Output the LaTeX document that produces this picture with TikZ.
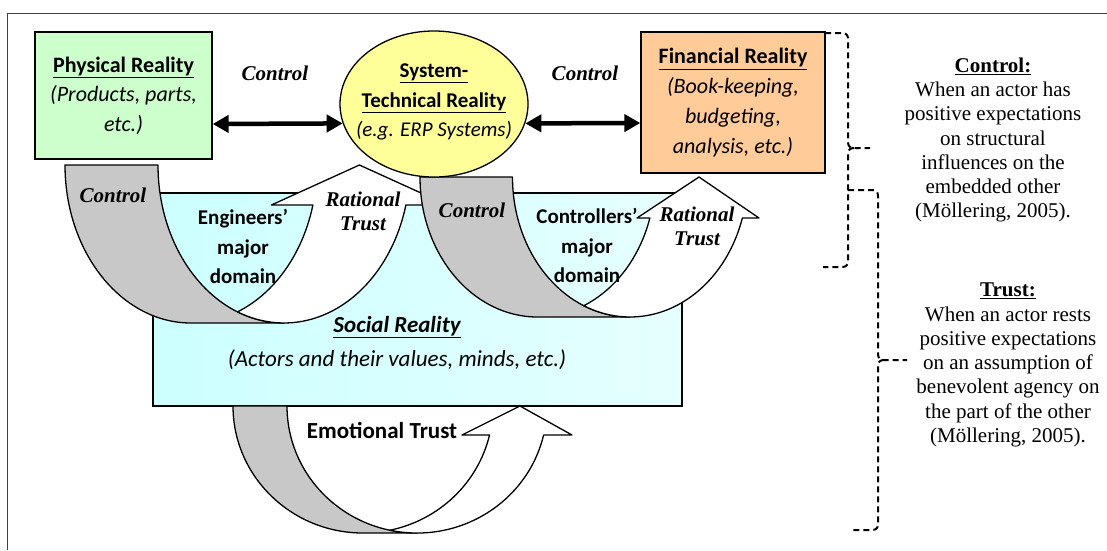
\documentclass[tikz,border=0pt]{standalone}
\usepackage{fontspec}
\setmainfont{Liberation Serif}
\newfontfamily\calfont{Carlito}
\usetikzlibrary{shapes.geometric,arrows.meta}
\definecolor{physgreen}{HTML}{CCFFCC}
\definecolor{finorange}{HTML}{FFCC99}
\definecolor{sysyellow}{HTML}{FFFF99}
\definecolor{arrgray}{HTML}{C8C8C8}
\definecolor{socleft}{HTML}{CCFFFF}
\definecolor{socright}{HTML}{E6FFFF}
\begin{document}
\begin{tikzpicture}[x=1pt,y=-1pt,
  outl/.style={draw=black,line width=1.3pt},
  band/.style={outl, line join=round},
  backband/.style={band, fill=arrgray},
  frontband/.style={band, fill=white},
  boxshape/.style={outl, rectangle, inner sep=0pt, align=center},
  cal/.style={font=\calfont\fontsize{21}{29.5}\selectfont, align=center, inner sep=0pt},
  calb/.style={font=\calfont\bfseries\fontsize{21}{29.5}\selectfont, align=center, inner sep=0pt},
  tmsbi/.style={font=\bfseries\itshape\fontsize{21}{24}\selectfont, align=center, inner sep=0pt},
  tmsnote/.style={font=\fontsize{21}{24.3}\selectfont, align=center, inner sep=0pt},
  dbl/.style={line width=4.5pt, {Triangle[length=16pt,width=17pt]}-{Triangle[length=16pt,width=17pt]}},
  bracepath/.style={line width=2pt, dash pattern=on 6pt off 4pt},
]
\useasboundingbox (0,0) rectangle (1107,550);
\fill[white] (0,0) rectangle (1107,550);
\draw[line width=1pt, black!75] (1107,13) -- (7,13) -- (7,550);

% social reality box
\node[boxshape, left color=socleft, right color=socright, minimum width=529pt, minimum height=213pt] (soc) at (417.5,299.5) {};

% curved arrow 1 (engineers)
\draw[backband] (65,165) arc[start angle=180, end angle=90, x radius=126, y radius=158] -- (284,323) arc[start angle=90, end angle=180, x radius=126, y radius=158] -- cycle;
\draw[frontband] (237.6,311.8) arc[start angle=68.3, end angle=14.67, x radius=126, y radius=158] -- (271.4,205) -- (359.4,165) -- (447.4,205) -- (405.9,205) arc[start angle=14.67, end angle=111.7, x radius=126, y radius=158] -- cycle;

% curved arrow 2 (controllers)
\draw[backband] (420,177) arc[start angle=180, end angle=90, x radius=117.5, y radius=140] -- (630,317) arc[start angle=90, end angle=180, x radius=117.5, y radius=140] -- cycle;
\draw[frontband] (583.75,305.7) arc[start angle=66.82, end angle=17.03, x radius=117.5, y radius=140] -- (637,218) -- (699,177) -- (759,218) -- (742.35,218) arc[start angle=17.03, end angle=113.18, x radius=117.5, y radius=140] -- cycle;

% curved arrow 3 (emotional trust)
\draw[backband] (233,406) arc[start angle=180, end angle=90, x radius=130, y radius=127] -- (417,533) arc[start angle=90, end angle=180, x radius=130, y radius=127] -- cycle;
\draw[frontband] (390.0,530.2) arc[start angle=78.0, end angle=13.2, x radius=130, y radius=127] -- (462,435) -- (520,406) -- (572,435) -- (543.6,435) arc[start angle=13.2, end angle=102.0, x radius=130, y radius=127] -- cycle;

% top boxes
\node[boxshape, fill=physgreen, minimum width=177pt, minimum height=127pt, font=\calfont\fontsize{22}{29.5}\selectfont] (phys) at (123.5,95.5) {\textbf{\underline{Physical Reality}}\\\textit{(Products, parts,}\\\textit{etc.)}};
\node[boxshape, fill=finorange, minimum width=184pt, minimum height=141pt, font=\calfont\fontsize{22}{29.7}\selectfont] (fin) at (733,102.5) {\textbf{\underline{Financial Reality}}\\\textit{(Book-keeping,}\\\textit{budgeting,}\\\textit{analysis, etc.)}};
\node[ellipse, outl, fill=sysyellow, minimum width=188pt, minimum height=146pt, inner sep=0pt] (sys) at (434,104) {};
\node[calb] (systext) at (434,102) {\underline{System-}\\\underline{Technical Reality}\\\textit{\mdseries (e.g. ERP Systems)}};

% double arrows
\draw[dbl] ([yshift=-28.5pt]phys.east) -- (sys.192);
\draw[dbl] (sys.348) -- ([yshift=-20.5pt]fin.west);

% labels
\node[tmsbi] (ctrlPS) at (275,73) {Control};
\node[tmsbi] (ctrlSF) at (585,73) {Control};
\node[tmsbi] (ctrlE) at (113,195) {Control};
\node[tmsbi] (ctrlC) at (472,210) {Control};
\node[tmsbi] (ratE) at (363,211.5) {Rational\\Trust};
\node[tmsbi] (ratC) at (697,226.5) {Rational\\Trust};
\node[calb] (engE) at (243,246.5) {Engineers’\\major\\domain};
\node[calb] (engC) at (587,245.5) {Controllers’\\major\\domain};
\node[calb, font=\calfont\bfseries\fontsize{23}{29.5}\selectfont] (emo) at (382,430) {Emotional Trust};
\node[cal, font=\calfont\fontsize{23}{34}\selectfont] (soctext) at (397,343) {\textbf{\textit{\underline{Social Reality}}}\\\textit{(Actors and their values, minds, etc.)}};

% definitions
\node[tmsnote] (noteC) at (993,140) {\textbf{\underline{Control:}}\\When an actor has\\positive expectations\\on structural\\influences on the\\embedded other\\(Möllering, 2005).};
\node[tmsnote] (noteT) at (1008,365) {\textbf{\underline{Trust:}}\\When an actor rests\\positive expectations\\on an assumption of\\benevolent agency on\\the part of the other\\(Möllering, 2005).};

% braces
\draw[bracepath] (825,33) -- (842,33) .. controls (846,33) and (848,35) .. (848,39) -- (848,142) .. controls (848,146) and (850,148) .. (854,148) -- (870,148);
\draw[bracepath] (854,148) .. controls (850,148) and (848,150) .. (848,154) -- (848,261) .. controls (848,265) and (846,267) .. (842,267) -- (823,267);
\draw[bracepath] (848,190) -- (872,190) .. controls (876,190) and (878,192) .. (878,196) -- (878,354) .. controls (878,358) and (880,360) .. (884,360) -- (907,360);
\draw[bracepath] (884,360) .. controls (880,360) and (878,362) .. (878,366) -- (878,524) .. controls (878,528) and (876,530) .. (872,530) -- (852,530);
\end{tikzpicture}
\end{document}
